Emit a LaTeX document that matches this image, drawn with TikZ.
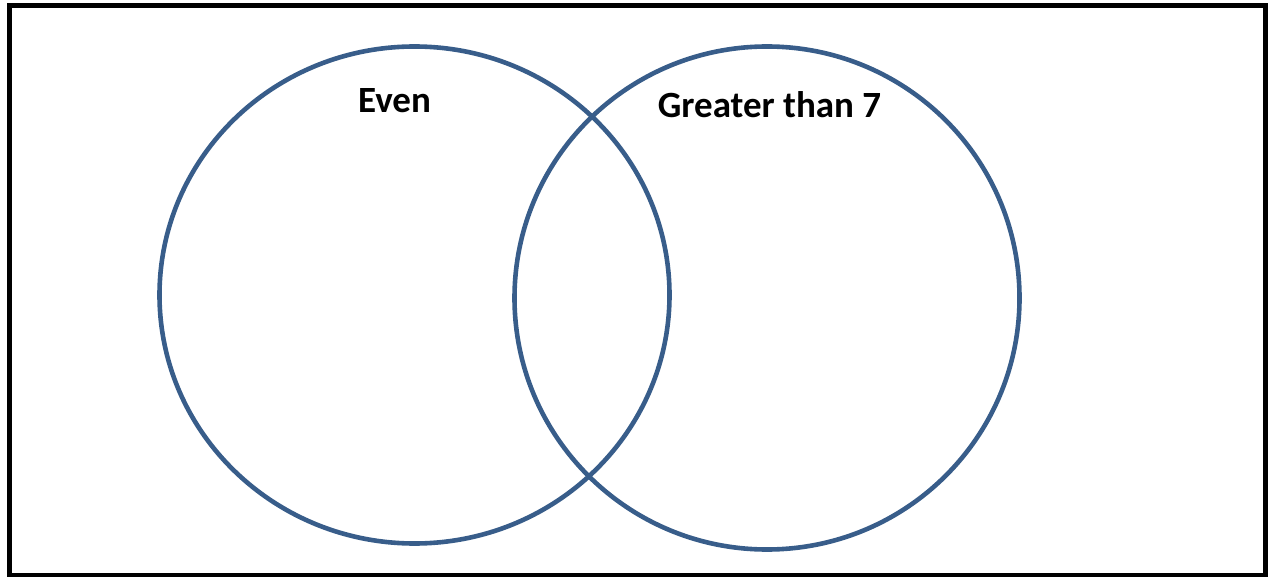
\documentclass[tikz,border=0pt]{standalone}
\usepackage{fontspec}
\setmainfont{Carlito}
\usetikzlibrary{positioning}
\definecolor{setblue}{RGB}{56,93,138}

\begin{document}
\begin{tikzpicture}[x=1pt,y=-1pt,every node/.style={font=\fontsize{37}{41}\selectfont\bfseries,inner sep=0pt,anchor=base},
  setline/.style={draw=setblue,line width=4.6pt}]
\useasboundingbox (0,0) rectangle (1268,577);
\draw[line width=5pt] (9.5,6) rectangle (1265.5,575.5);
\draw[setline] (414.5,295) ellipse [x radius=255,y radius=248.5];
\draw[setline] (767,298) ellipse [x radius=252.5,y radius=251.5];
\node (even) at (394.5,113) {Even};
\node (greater) at (769.5,118) {Greater than 7};
\end{tikzpicture}
\end{document}
